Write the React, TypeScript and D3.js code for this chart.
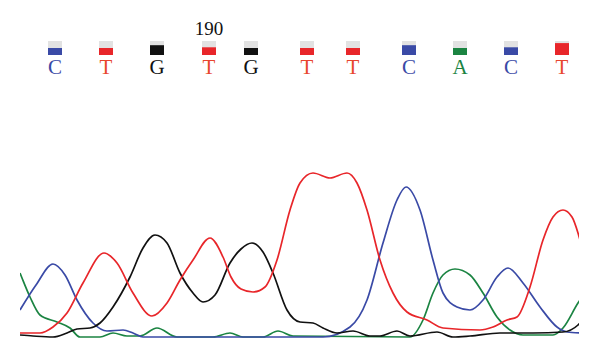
import { useEffect, useRef } from 'react'
import * as d3 from 'd3'

// called bases, their scan positions and quality (0..1)
const bases = ['C', 'T', 'G', 'T', 'G', 'T', 'T', 'C', 'A', 'C', 'T']
const basePos = [35, 86, 137, 189, 231, 287, 333, 389, 440, 491, 542]
const quality = [0.5, 0.5, 0.7, 0.55, 0.5, 0.5, 0.5, 0.7, 0.5, 0.55, 0.85]
const tickLabel = { text: '190', base: 3 }

// trace channels: [scan, intensity]
const traceA: [number, number][] = [
  [0, 64], [2, 59], [10, 40], [20, 22], [37, 15], [50, 9], [60, 0], [80, 0], [93, 4], [107, 1],
  [120, 1], [137, 9], [157, 0], [193, 0], [210, 4], [223, 0], [243, 0], [258, 6], [273, 1],
  [390, 0], [403, 17], [413, 44], [423, 62], [435, 68], [450, 62], [463, 44], [477, 20],
  [490, 7], [503, 2], [533, 2], [543, 9], [558, 34], [560, 37],
]
const traceC: [number, number][] = [
  [0, 27], [16, 52], [33, 73], [45, 62], [57, 37], [73, 14], [87, 6], [103, 7], [113, 4],
  [123, 0], [300, 0], [303, 0], [330, 10], [347, 37], [363, 94], [377, 137], [386, 150],
  [400, 127], [413, 77], [423, 44], [437, 30], [450, 27], [463, 37], [477, 60], [488, 69],
  [503, 54], [520, 30], [537, 10], [547, 5], [560, 4],
]
const traceG: [number, number][] = [
  [0, 2], [13, 1], [33, 0], [47, 4], [57, 8], [70, 9], [80, 14], [93, 30], [110, 60],
  [123, 89], [135, 102], [147, 94], [160, 64], [173, 44], [183, 35], [195, 42], [210, 74],
  [221, 88], [232, 94], [243, 85], [253, 64], [267, 27], [280, 15], [293, 14], [303, 9],
  [317, 4], [333, 6], [350, 1], [360, 1], [377, 6], [390, 1], [417, 5], [433, 0], [450, 1],
  [480, 4], [513, 4], [543, 5], [558, 12], [560, 14],
]
const traceT: [number, number][] = [
  [0, 4], [20, 4], [33, 10], [47, 24], [63, 54], [84, 84], [97, 74], [113, 44], [132, 21],
  [147, 34], [160, 57], [173, 77], [190, 99], [203, 80], [211, 60], [221, 48], [233, 45],
  [245, 50], [257, 77], [270, 127], [280, 154], [293, 164], [310, 159], [327, 164], [337, 154],
  [347, 127], [360, 77], [373, 44], [387, 25], [407, 17], [423, 9], [460, 7], [473, 10],
  [487, 17], [497, 20], [510, 50], [523, 97], [533, 120], [543, 127], [552, 120],
  [558, 104], [560, 97],
]

const colors: Record<string, string> = {
  A: '#1b8442',
  C: '#3a4aa6',
  G: '#111111',
  T: '#e8262a',
}
const letterColors: Record<string, string> = {
  A: '#1b8442',
  C: '#3a4aa6',
  G: '#111111',
  T: '#e8452e',
}

const App = () => {
  const svgRef = useRef<SVGSVGElement>(null)

  useEffect(() => {
    const svg = d3.select(svgRef.current)
    svg.selectAll('*').remove()

    const width = 600
    const height = 359
    svg.attr('width', width).attr('height', height)

    const x = d3.scaleLinear().domain([0, 560]).range([20, 580])
    const y = d3.scaleLinear().domain([0, 165]).range([337, 172])

    svg.append('rect').attr('width', width).attr('height', height).attr('fill', 'white')

    svg
      .append('clipPath')
      .attr('id', 'plotClip')
      .append('rect')
      .attr('x', 20)
      .attr('y', 0)
      .attr('width', 559)
      .attr('height', height)

    const line = d3
      .line<[number, number]>()
      .x((d) => x(d[0]))
      .y((d) => y(d[1]))
      .curve(d3.curveMonotoneX)

    const g = svg.append('g').attr('clip-path', 'url(#plotClip)')
    const traces: [string, [number, number][]][] = [
      ['A', traceA],
      ['C', traceC],
      ['G', traceG],
      ['T', traceT],
    ]
    g.selectAll('path')
      .data(traces)
      .enter()
      .append('path')
      .attr('d', (d) => line(d[1]))
      .attr('fill', 'none')
      .attr('stroke', (d) => colors[d[0]])
      .attr('stroke-width', 1.7)

    // quality bars
    const boxTop = 41
    const boxH = 14
    const boxW = 14
    const calls = svg.append('g')
    bases.forEach((b, i) => {
      const cx = x(basePos[i])
      calls
        .append('rect')
        .attr('x', cx - boxW / 2)
        .attr('y', boxTop)
        .attr('width', boxW)
        .attr('height', boxH)
        .attr('fill', '#e2e2e2')
      const qh = boxH * quality[i]
      calls
        .append('rect')
        .attr('x', cx - boxW / 2)
        .attr('y', boxTop + boxH - qh)
        .attr('width', boxW)
        .attr('height', qh)
        .attr('fill', colors[b])
      calls
        .append('text')
        .attr('x', cx)
        .attr('y', 74)
        .attr('text-anchor', 'middle')
        .attr('font-family', 'Liberation Serif, serif')
        .attr('font-size', 21)
        .attr('fill', letterColors[b])
        .text(b)
    })

    svg
      .append('text')
      .attr('x', x(basePos[tickLabel.base]))
      .attr('y', 35)
      .attr('text-anchor', 'middle')
      .attr('font-family', 'Liberation Serif, serif')
      .attr('font-size', 19)
      .attr('fill', '#111')
      .text(tickLabel.text)
  }, [])

  return (
    <div style={{ position: 'absolute', left: 0, top: 0 }}>
      <svg ref={svgRef} style={{ display: 'block' }}></svg>
    </div>
  )
}

export default App
